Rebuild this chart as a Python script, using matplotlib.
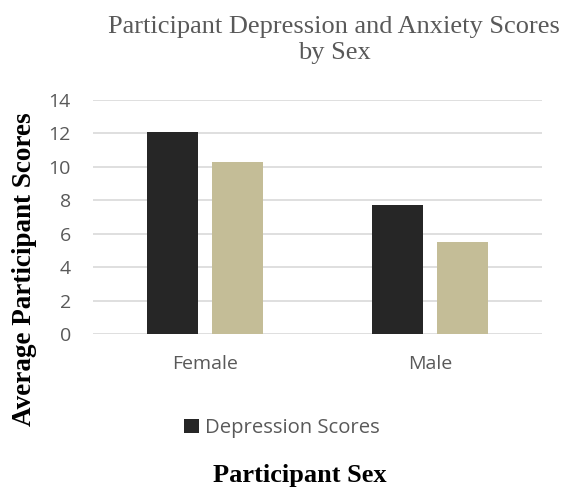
import matplotlib
matplotlib.use("Agg")
import matplotlib.pyplot as plt
import numpy as np

categories = ["Female", "Male"]
depression = [12.1, 7.7]
anxiety = [10.3, 5.5]
yticks = [0, 2, 4, 6, 8, 10, 12, 14]

dark = "#262626"
tan = "#c4bd97"
gray_text = "#595959"
sans = "Open Sans"
serif = "Liberation Serif"

fig = plt.figure(figsize=(5.74, 4.90), dpi=100)
ax = fig.add_axes([93 / 574, 1 - 334 / 490, 449 / 574, 234 / 490])

x = np.arange(len(categories))
w = 0.227
off = w / 2 + 0.031
b1 = ax.bar(x - off, depression, w, color=dark, label="Depression Scores", zorder=3)
ax.bar(x + off, anxiety, w, color=tan, zorder=3)

ax.set_xlim(-0.5, len(categories) - 0.5)
ax.set_ylim(0, 14)
ax.set_yticks(yticks)
ax.set_yticklabels([str(t) for t in yticks], fontfamily=sans, fontsize=14, color=gray_text)
ax.set_xticks(x)
ax.set_xticklabels(categories, fontfamily=sans, fontsize=14, color=gray_text)
ax.tick_params(axis="both", length=0)
ax.tick_params(axis="y", pad=16)
ax.tick_params(axis="x", pad=15)
ax.yaxis.grid(True, color="#d9d9d9", linewidth=1.2, zorder=0)
for s in ax.spines.values():
    s.set_visible(False)

fig.text(334 / 574, 1 - 33 / 490, "Participant Depression and Anxiety Scores",
         ha="center", va="baseline", fontfamily=serif, fontsize=19, color=gray_text)
fig.text(334 / 574, 1 - 59 / 490, "by Sex",
         ha="center", va="baseline", fontfamily=serif, fontsize=19, color=gray_text)
fig.text(25 / 574, 1 - 269 / 490, "Average Participant Scores", rotation=90,
         ha="center", va="center", fontfamily=serif, fontsize=19.5, fontweight="bold", color="black")
fig.text(300 / 574, 1 - 482 / 490, "Participant Sex",
         ha="center", va="baseline", fontfamily=serif, fontsize=19, fontweight="bold", color="black")

fig.legend(handles=[b1], loc="center", bbox_to_anchor=(282 / 574, 1 - 428 / 490),
           frameon=False, prop={"family": sans, "size": 14.6}, labelcolor=gray_text,
           handlelength=0.7, handleheight=0.7, handletextpad=0.3)

fig.savefig("out.png", dpi=100)
